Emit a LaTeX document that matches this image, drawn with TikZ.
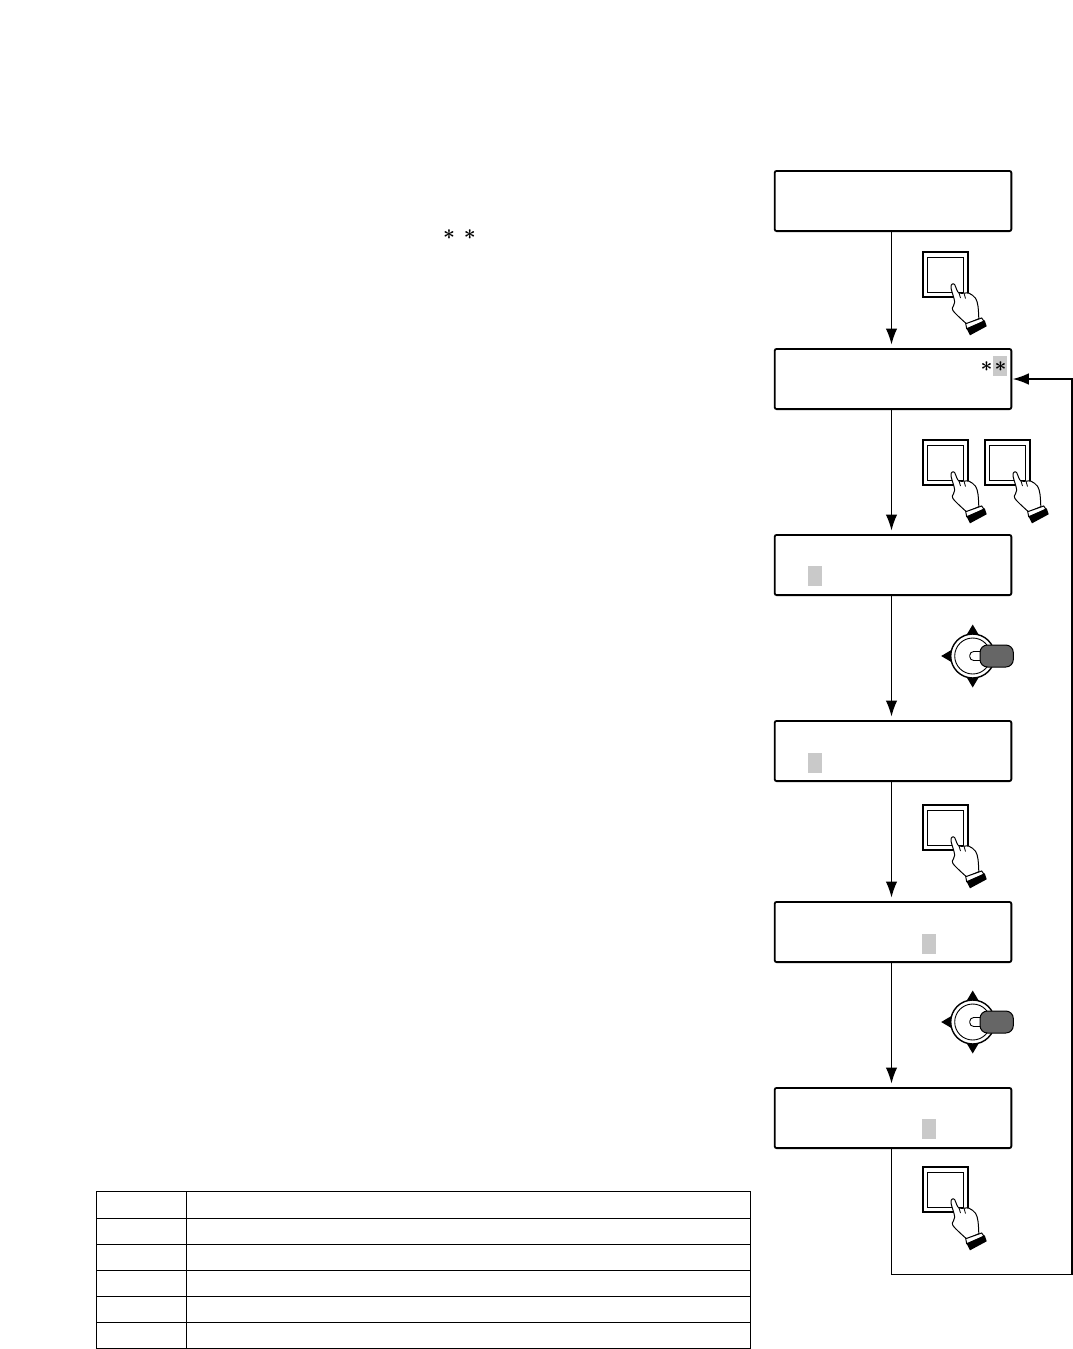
\documentclass[tikz,border=0pt]{standalone}
\usepackage{amssymb}
\usepackage{amsmath}
\usetikzlibrary{positioning,arrows.meta}

\begin{document}
\begin{tikzpicture}[
    x=1pt, y=-1pt,
    node distance=120pt,
    disp/.style={draw, rectangle, rounded corners=2pt, line width=1.8pt, minimum width=236.7pt, minimum height=60.2pt, inner sep=0pt, fill=white},
    cursor/.style={rectangle, fill=black!21, inner sep=0pt, minimum width=14pt, minimum height=20pt},
    star/.style={inner sep=0pt, font=\fontsize{20}{20}\selectfont},
    arrow/.style={-{Latex[length=16pt,width=11.5pt]}, line width=1.2pt, shorten >=3.5pt},
    grid/.style={line width=1pt},
    button/.pic={
        \draw[line width=1.7pt] (0,0) rectangle (45,45);
        \draw[line width=1pt] (4.5,5) rectangle (40,40);
        \filldraw[fill=white, line width=1pt] plot[smooth, tension=.6] coordinates {(43.7,72) (32,61) (29.3,56) (31.7,50) (28,36) (29.3,32) (31.7,32.7) (33.7,37.7) (36,41) (41,41.2) (46,41.2) (52.5,46.2) (55,54.3) (55.8,66.7)} -- cycle;
        \draw[line width=.8pt] (36,41) -- (37.5,46) (41,41.2) -- (42.5,46.5);
        \filldraw[fill=white, line width=1pt] (42.7,71.7) -- (58.7,66) -- (61,69.3) -- (43.7,76.7) -- cycle;
        \fill (43.7,76.7) -- (61.7,68.3) -- (63.7,74.3) -- (47,83.3) -- cycle;
    },
    stick/.pic={
        % three arrow points, the fourth is behind the grip
        \foreach \r in {0,90,180}
            \fill[rotate=\r] (0,-31.5) -- (-8,-18) -- (8,-18) -- cycle;
        \filldraw[fill=white, line width=1.4pt] (0,0) circle (22pt);
        \draw[line width=.9pt] (0,0) circle (18pt);
        \filldraw[fill=white, line width=.9pt, rounded corners=4pt] (-3,-4.5) rectangle (12,4.5);
        \filldraw[fill=black!60, line width=1pt, rounded corners=7.5pt] (7.3,-11) rectangle (40.6,11);
    }
]
\useasboundingbox (0,0) rectangle (1073,1349);

% Text marks
\node[star] (starA) at (449,235) {$\boldsymbol{\ast}$};
\node[star, right=8.5pt of starA] (starB) {$\boldsymbol{\ast}$};

% Displays
\node[disp] (dispA) at (893,201) {};
\node[disp, below=116pt of dispA] (dispB) {};
\node[disp, below=124pt of dispB] (dispC) {};
\node[disp, below=124pt of dispC] (dispD) {};
\node[disp, below=119pt of dispD] (dispE) {};
\node[disp, below=124pt of dispE] (dispF) {};

% Cursors in the displays
\node[cursor] (curB) at (1000,366) {};
\node[star] (starC) at (986.5,367) {$\boldsymbol{\ast}$};
\node[star] (starD) at (1000.5,367) {$\boldsymbol{\ast}$};
\node[cursor] (curC) at (815,576) {};
\node[cursor] (curD) at (815,763) {};
\node[cursor] (curE) at (929,944) {};
\node[cursor] (curF) at (929,1129) {};

% Arrows between the displays
\draw[arrow] ([xshift=-1.5pt]dispA.south) -- ([xshift=-1.5pt]dispB.north);
\draw[arrow] ([xshift=-1.5pt]dispB.south) -- ([xshift=-1.5pt]dispC.north);
\draw[arrow] ([xshift=-1.5pt]dispC.south) -- ([xshift=-1.5pt]dispD.north);
\draw[arrow] ([xshift=-1.5pt]dispD.south) -- ([xshift=-1.5pt]dispE.north);
\draw[arrow] ([xshift=-1.5pt]dispE.south) -- ([xshift=-1.5pt]dispF.north);

% Way back to the second display
\coordinate (backC) at (1072,1274.5);
\draw[arrow, line width=1.5pt, shorten >=.5pt] ([xshift=-1.5pt]dispF.south) |- (backC) |- (dispB.east);

% Keys and sticks
\pic at (923,252) {button};
\pic at (923,440) {button};
\pic at (985,440) {button};
\pic at (972.7,656) {stick};
\pic at (923,805) {button};
\pic at (972.7,1022) {stick};
\pic at (923,1167) {button};

% Table
\draw[grid] (96.5,1191.5) rectangle (750.5,1348.5);
\foreach \y in {1218.5,1244.5,1270.5,1296.5,1322.5}
    \draw[grid] (96.5,\y) -- (750.5,\y);
\draw[grid] (186.5,1191.5) -- (186.5,1348.5);

\end{tikzpicture}
\end{document}
